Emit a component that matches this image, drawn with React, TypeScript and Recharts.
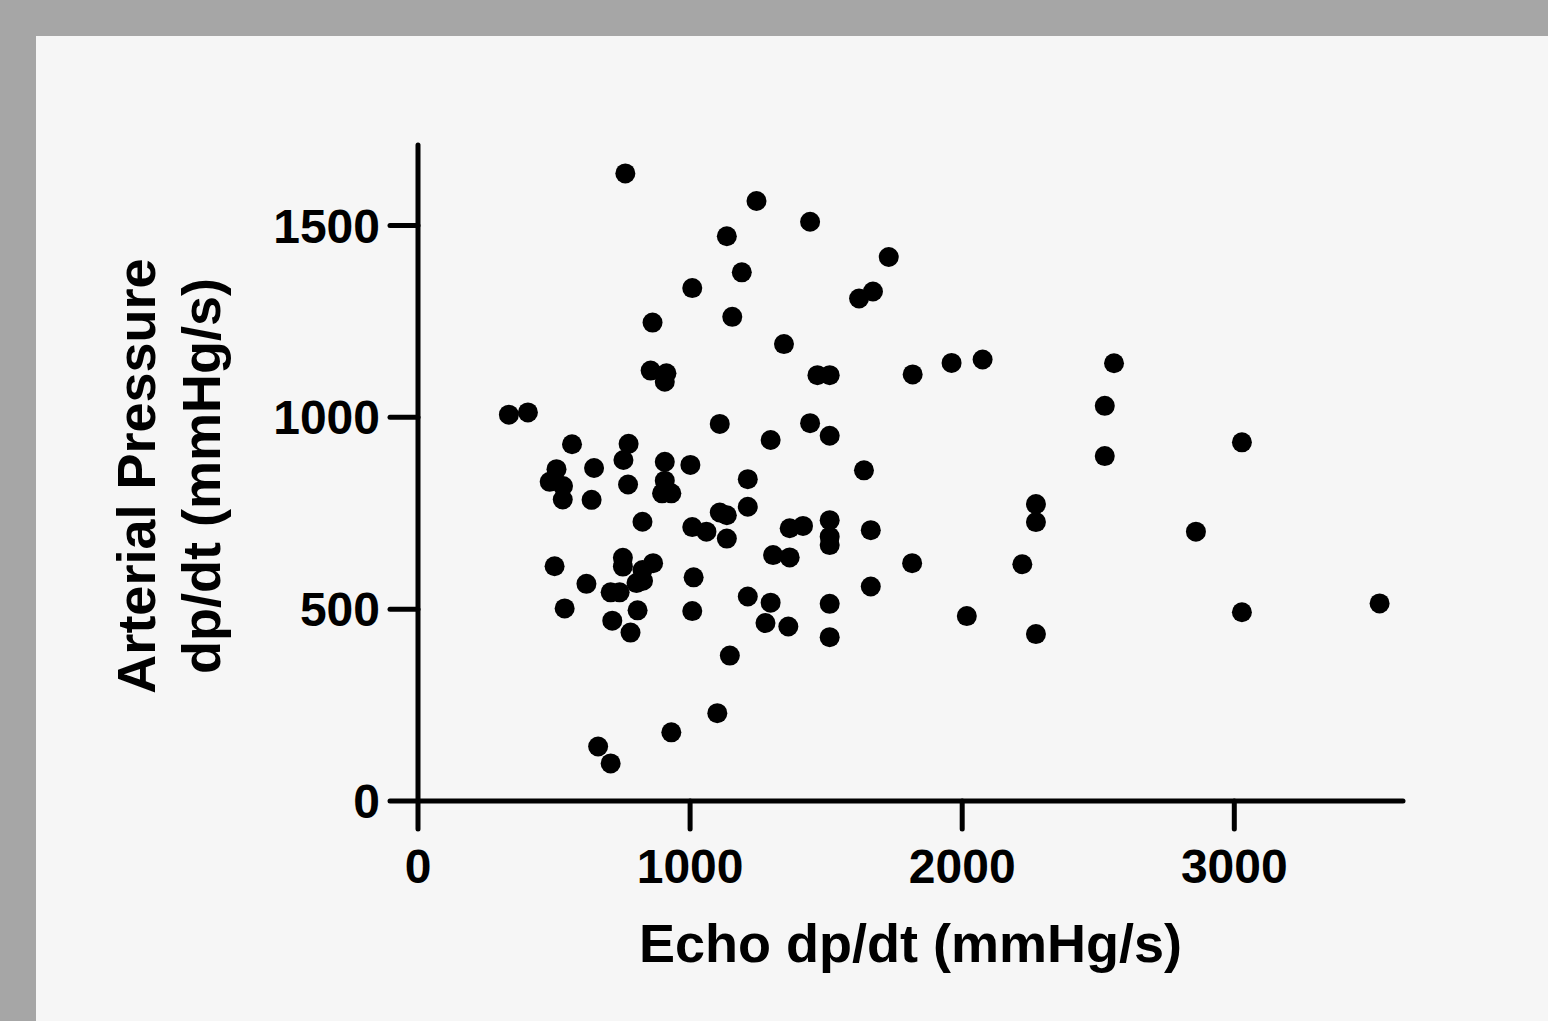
import { Label, Scatter, ScatterChart, XAxis, YAxis } from 'recharts';

// Echo-derived vs arterial-pressure dp/dt, one entry per subject (mmHg/s)
const echoDpDt = [
  762, 1244, 1441, 1135, 1730, 1190, 1008, 1672, 1621, 1155,
  862, 1345, 1961, 2075, 2558, 855, 913, 907, 1468, 1513,
  1818, 2524, 334, 404, 1109, 1441, 1513, 1296, 3028, 566,
  774, 755, 907, 1001, 1639, 647, 509, 2524, 484, 533,
  532, 638, 772, 907, 897, 931, 1212, 1212, 825, 1109,
  1135, 1008, 1060, 1135, 1366, 1415, 1513, 1513, 1513, 1664,
  2271, 2271, 2859, 1305, 1366, 502, 753, 753, 864, 825,
  827, 803, 619, 708, 741, 1013, 1816, 2221, 1212, 1296,
  1513, 1664, 539, 807, 1008, 1277, 1361, 1513, 2017, 3028,
  3534, 2271, 714, 781, 1146, 1100, 931, 662, 708,
];

const arterialDpDt = [
  1636, 1564, 1510, 1472, 1418, 1378, 1337, 1328, 1310, 1262,
  1247, 1191, 1142, 1151, 1141, 1122, 1115, 1093, 1110, 1110,
  1112, 1030, 1007, 1013, 983, 985, 952, 941, 935, 930,
  931, 889, 884, 876, 862, 868, 865, 899, 832, 821,
  786, 785, 825, 835, 802, 802, 839, 767, 728, 752,
  745, 714, 702, 684, 711, 717, 732, 689, 667, 706,
  774, 727, 702, 641, 635, 612, 634, 611, 620, 602,
  574, 568, 566, 544, 544, 583, 620, 617, 533, 517,
  514, 559, 502, 497, 495, 464, 455, 427, 482, 492,
  515, 435, 470, 439, 379, 229, 179, 142, 98,
];

const xTicks = [0, 1000, 2000, 3000];
const yTicks = [0, 500, 1000, 1500];

const points = echoDpDt.map((echo, i) => ({ echo, arterial: arterialDpDt[i] }));

const FONT = '"Liberation Sans", Arial, Helvetica, sans-serif';
const axisStroke = { stroke: '#000', strokeWidth: 5, strokeLinecap: 'round' as const, style: { strokeWidth: 5 } };
const tickStyle = { fill: '#000', fontSize: 48, fontWeight: 700, fontFamily: FONT };

function XTitle(props: any) {
  const vb = props.viewBox ?? { x: 418, y: 801, width: 985, height: 220 };
  return (
    <text
      x={vb.x + vb.width / 2}
      y={vb.y + 161}
      textAnchor="middle"
      fill="#000"
      fontSize={54}
      fontWeight={700}
      fontFamily={FONT}
    >
      Echo dp/dt (mmHg/s)
    </text>
  );
}

function YTitle(props: any) {
  const vb = props.viewBox ?? { x: 0, y: 145, width: 418, height: 656 };
  const cy = vb.y + vb.height / 2 + 3;
  const common = { textAnchor: 'middle' as const, fill: '#000', fontSize: 54, fontWeight: 700, fontFamily: FONT };
  return (
    <g>
      <text x={155} y={cy} transform={`rotate(-90 155 ${cy})`} {...common}>
        Arterial Pressure
      </text>
      <text x={220} y={cy} transform={`rotate(-90 220 ${cy})`} {...common}>
        dp/dt (mmHg/s)
      </text>
    </g>
  );
}

const Dot = (props: any) => <circle cx={props.cx} cy={props.cy} r={10} fill="#000" />;

export default function App() {
  return (
    <div style={{ position: 'absolute', left: 0, top: 0, width: 1548, height: 1021, background: '#a6a6a6', overflow: 'hidden' }}>
      <style>{'.recharts-cartesian-axis-line, .recharts-cartesian-axis-tick-line { stroke-width: 5px; stroke-linecap: round; }'}</style>
      <div style={{ position: 'absolute', left: 36, top: 36, right: 0, bottom: 0, background: '#f6f6f6' }} />
      <div style={{ position: 'absolute', left: 0, top: 0 }}>
        <ScatterChart width={1548} height={1021} margin={{ top: 145, right: 145, bottom: 0, left: 0 }}>
          <XAxis
            type="number"
            dataKey="echo"
            domain={[0, 3620]}
            ticks={xTicks}
            height={220}
            tickSize={28}
            tickMargin={20}
            stroke="#000"
            axisLine={axisStroke}
            tickLine={axisStroke}
            tick={tickStyle}
          >
            <Label content={<XTitle />} />
          </XAxis>
          <YAxis
            type="number"
            dataKey="arterial"
            domain={[0, 1710]}
            ticks={yTicks}
            width={418}
            tickSize={28}
            tickMargin={10}
            stroke="#000"
            axisLine={axisStroke}
            tickLine={axisStroke}
            tick={tickStyle}
          >
            <Label content={<YTitle />} />
          </YAxis>
          <Scatter data={points} shape={<Dot />} isAnimationActive={false} />
        </ScatterChart>
      </div>
    </div>
  );
}
